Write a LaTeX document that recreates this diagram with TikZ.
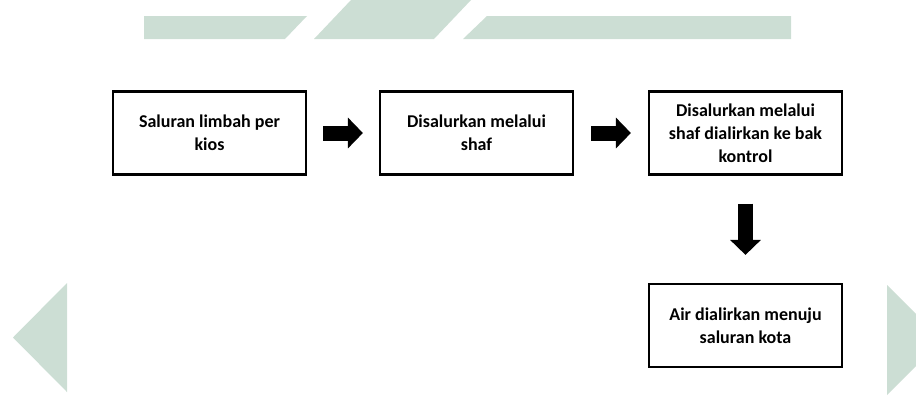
\documentclass[tikz,border=0pt]{standalone}
\usepackage{fontspec}
\setmainfont{Carlito}
\usetikzlibrary{arrows.meta}

\definecolor{latar}{RGB}{204,222,212}

\begin{document}
\begin{tikzpicture}[x=1pt,y=-1pt,
   kotak/.style={draw,line width=2.2pt,minimum width=193pt,minimum height=83pt,
      align=center,font=\bfseries\fontsize{18}{23}\selectfont},
   panah/.style={line width=15pt,-{Triangle[length=15pt,width=30pt]}}]
   \useasboundingbox (0,0) rectangle (916,400);

   % latar belakang
   \fill[latar] (144,16) -- (307,16) -- (285,39) -- (144,39) -- cycle;
   \fill[latar] (351,0) -- (471,0) -- (434,39) -- (314,39) -- cycle;
   \fill[latar] (487,16) -- (791,16) -- (791,39) -- (463,39) -- cycle;
   \fill[latar] (67,283) -- (67,392) -- (13,337.5) -- cycle;
   \fill[latar] (887,285) -- (916,314) -- (916,366) -- (887,395) -- cycle;

   % kotak
   \node[kotak] (saluran) at (209.5,133) {Saluran limbah per\\kios};
   \node[kotak] (shaf) at (476.5,133) {Disalurkan melalui\\shaf};
   \node[kotak] (kontrol) at (745.5,133) {Disalurkan melalui\\shaf dialirkan ke bak\\kontrol};
   \node[kotak] (kota) at (745.5,325.5) {Air dialirkan menuju\\saluran kota};

   % panah
   \draw[panah,shorten <=16pt,shorten >=16pt] (saluran) -- (shaf);
   \draw[panah,shorten <=17pt,shorten >=17pt] (shaf) -- (kontrol);
   \draw[panah,shorten <=28pt,shorten >=28pt] (kontrol) -- (kota);

\end{tikzpicture}
\end{document}
